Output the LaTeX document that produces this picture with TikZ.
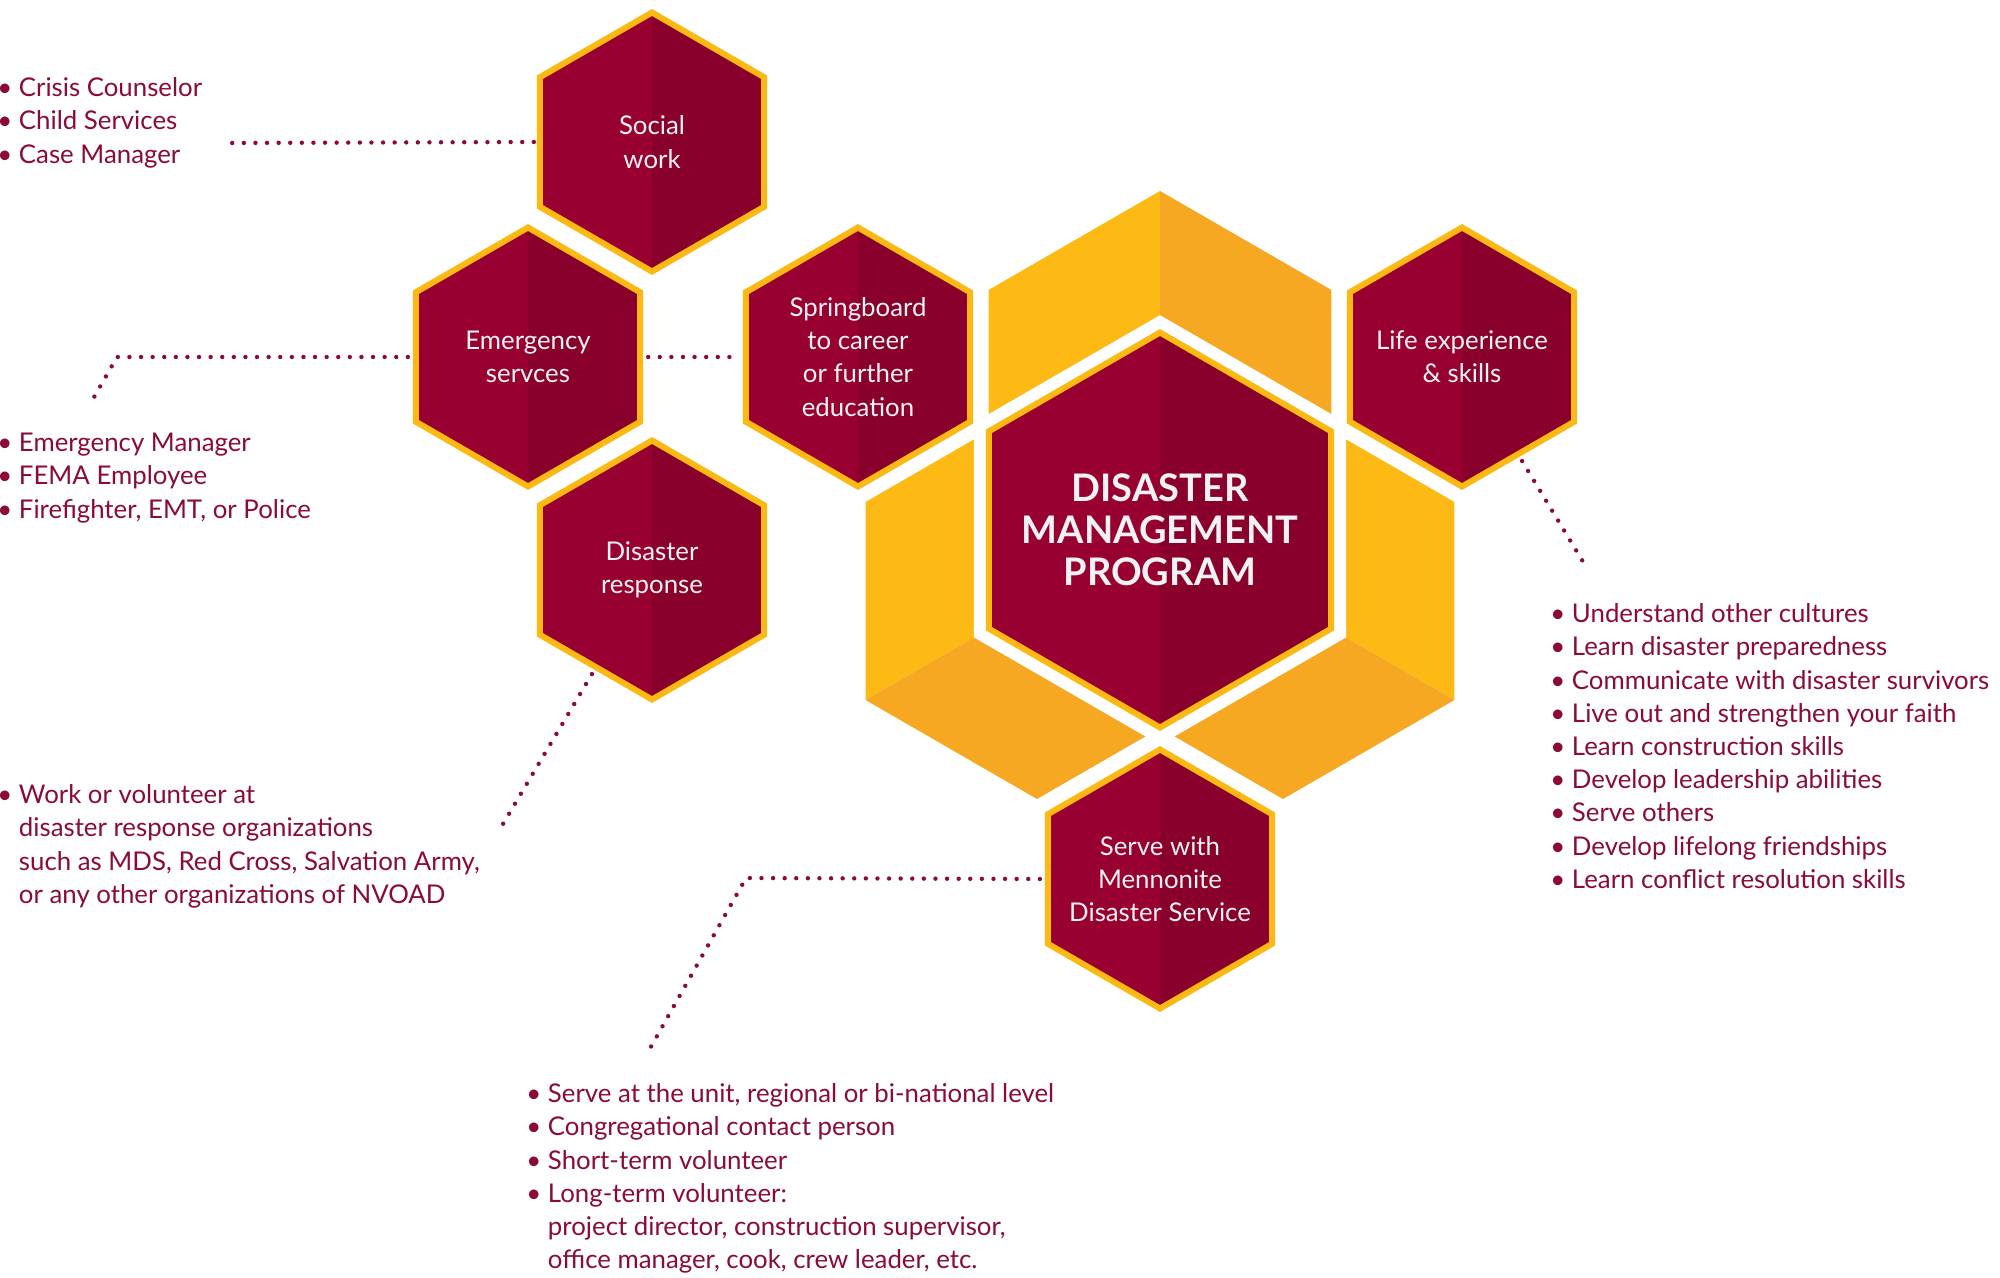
\documentclass[tikz,border=0pt]{standalone}
\usepackage{fontspec}
\setmainfont{Lato}
\usetikzlibrary{shapes.geometric, calc, backgrounds}

\definecolor{plumL}{HTML}{970030}
\definecolor{plumR}{HTML}{88002B}
\definecolor{gold}{HTML}{FDB913}
\definecolor{honey}{HTML}{FDBA14}
\definecolor{amber}{HTML}{F7A823}
\definecolor{plumT}{HTML}{8C0B36}

\begin{document}
\begin{tikzpicture}[
    x=0.5pt, y=0.5pt,
    font=\fontsize{12.9}{16.6}\selectfont,
    hexa/.style={regular polygon, regular polygon sides=6, shape border rotate=90,
        minimum size=#1, inner sep=-20pt, outer sep=0pt, line width=3pt,
        draw=gold, fill=plumL, text=white!95!black, align=center,
        path picture={\fill[plumR] (path picture bounding box.north)
            rectangle (path picture bounding box.south east);}},
    gap/.style={draw=white, line width=15pt},
    list/.style={anchor=north west, align=left, inner sep=0pt, text=plumT},
    dots/.style={plumT, line width=2.2pt, line cap=round, dash pattern=on 0pt off 5.8pt}
]
\useasboundingbox (0,0) rectangle (2000,-1278);

% hexagons
\node[hexa=197.5pt, inner sep=-30pt, font=\bfseries\fontsize{19}{21}\selectfont] (main)
    at (1160,-530) {DISASTER\\MANAGEMENT\\PROGRAM};
\node[hexa=129.5pt] (social) at (652,-142) {Social\\work};
\node[hexa=129.5pt] (emerg)  at (528,-357) {Emergency\\servces};
\node[hexa=129.5pt] (dresp)  at (652,-570) {Disaster\\response};
\node[hexa=129.5pt] (spring) at (858,-357) {Springboard\\to career\\or further\\education};
\node[hexa=129.5pt] (life)   at (1462,-357) {Life experience\\\& skills};
\node[hexa=129.5pt] (serve)  at (1160,-879) {Serve with\\Mennonite\\Disaster Service};

\begin{pgfonlayer}{background}
    % yellow cube faces
    \begin{scope}[shift={(1160,-389)}]
        \fill[honey] (90:198) -- (150:198) -- (210:198) -- (270:198) -- cycle;
        \fill[amber] (90:198) -- (30:198) -- (330:198) -- (270:198) -- cycle;
    \end{scope}
    \begin{scope}[shift={(1037,-601)}]
        \fill[honey] (30:198) -- (90:198) -- (150:198) -- (210:198) -- cycle;
        \fill[amber] (210:198) -- (270:198) -- (330:198) -- (30:198) -- cycle;
    \end{scope}
    \begin{scope}[shift={(1283,-601)}]
        \fill[honey] (150:198) -- (90:198) -- (30:198) -- (330:198) -- cycle;
        \fill[amber] (330:198) -- (270:198) -- (210:198) -- (150:198) -- cycle;
    \end{scope}
    \foreach \h in {main, social, emerg, dresp, spring, life, serve}
        \draw[gap] (\h.corner 1) -- (\h.corner 2) -- (\h.corner 3)
            -- (\h.corner 4) -- (\h.corner 5) -- (\h.corner 6) -- cycle;
\end{pgfonlayer}

% connectors
\coordinate (socialEnd) at (227,-143);
\coordinate (emergBend) at (117,-357);
\coordinate (emergEnd)  at (89,-406);
\coordinate (drespEnd)  at (500,-829);
\coordinate (lifeEnd)   at (1588,-570);
\coordinate (serveBend) at (746,-878);
\coordinate (serveEnd)  at (648,-1052);

\draw[dots] ([xshift=-3pt]social.west) -- (socialEnd);
\draw[dots] ([xshift=-4pt]emerg.west) -- (emergBend) -- (emergEnd);
\draw[dots] ([xshift=4pt]emerg.east) -- ([xshift=-3pt]spring.west);
\draw[dots] ([shift={(-120:8)}]dresp.-120) -- (drespEnd);
\draw[dots] ([shift={(-60:8)}]life.-60) -- (lifeEnd);
\draw[dots] ([xshift=-4pt]serve.west) -- (serveBend) -- (serveEnd);

% lists
\node[list] (socialList) at (-3,-73) {\strut\textbullet\ Crisis Counselor\\
    \textbullet\ Child Services\\
    \textbullet\ Case Manager};
\node[list] (emergList) at (-3,-428) {\strut\textbullet\ Emergency Manager\\
    \textbullet\ FEMA Employee\\
    \textbullet\ Firefighter, EMT, or Police};
\node[list] (drespList) at (-3,-780) {\strut\textbullet\ Work or volunteer at\\
    \phantom{\textbullet\ }disaster response organizations\\
    \phantom{\textbullet\ }such as MDS, Red Cross, Salvation Army,\\
    \phantom{\textbullet\ }or any other organizations of NVOAD};
\node[list] (serveList) at (526,-1079) {\strut\textbullet\ Serve at the unit, regional or bi-national level\\
    \textbullet\ Congregational contact person\\
    \textbullet\ Short-term volunteer\\
    \textbullet\ Long-term volunteer:\\
    \phantom{\textbullet\ }project director, construction supervisor,\\
    \phantom{\textbullet\ }office manager, cook, crew leader, etc.};
\node[list] (lifeList) at (1550,-599) {\strut\textbullet\ Understand other cultures\\
    \textbullet\ Learn disaster preparedness\\
    \textbullet\ Communicate with disaster survivors\\
    \textbullet\ Live out and strengthen your faith\\
    \textbullet\ Learn construction skills\\
    \textbullet\ Develop leadership abilities\\
    \textbullet\ Serve others\\
    \textbullet\ Develop lifelong friendships\\
    \textbullet\ Learn conflict resolution skills};
\end{tikzpicture}
\end{document}
